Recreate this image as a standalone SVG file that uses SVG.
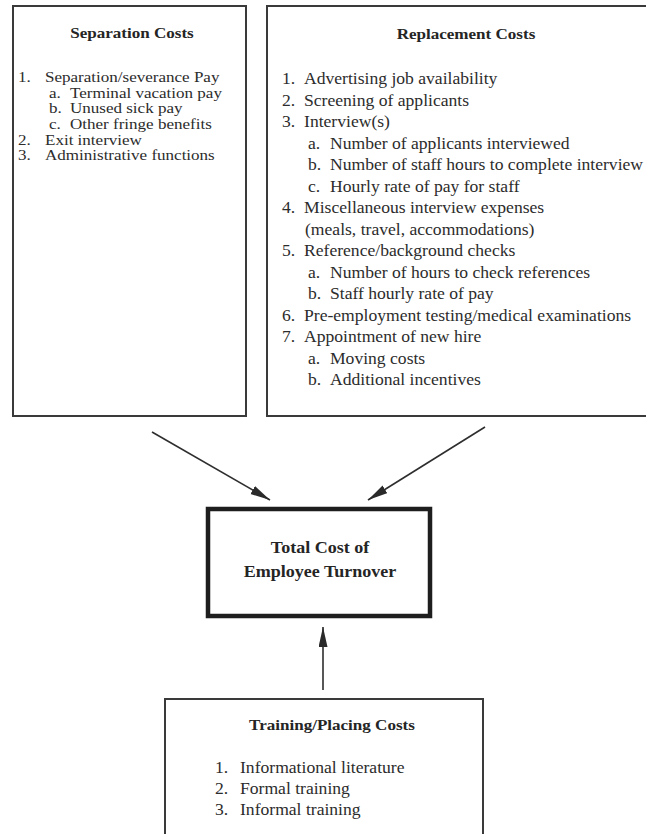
<svg xmlns="http://www.w3.org/2000/svg" width="646" height="834" viewBox="0 0 646 834">
  <style>
    .box { fill: #ffffff; stroke: #3a3a3a; stroke-width: 2; }
    .total { fill: #ffffff; stroke: #1e1e1e; stroke-width: 4.5; }
    .txt text { font-family: "Liberation Serif", "Times New Roman", serif; font-size: 16px; fill: #2c2c2c; }
    .txt.tight text { font-size: 14.2px; }
    .txt .title { font-weight: bold; font-size: 15.5px; text-anchor: middle; fill: #252525; }
    .txt .big { font-weight: bold; font-size: 16.4px; text-anchor: middle; fill: #252525; }
    .conn line { stroke: #2e2e2e; stroke-width: 1.6; fill: none; }
  </style>
  <defs>
    <marker id="head" markerUnits="userSpaceOnUse" markerWidth="21" markerHeight="10" refX="20" refY="4.5" orient="auto">
      <path d="M0,0 L20,4.5 L0,9 Z" fill="#2a2a2a"/>
    </marker>
  </defs>

  <rect width="646" height="834" fill="#ffffff"/>

  <!-- Separation costs -->
  <g id="separation-costs">
    <rect class="box" x="13" y="6" width="233" height="410"/>
    <g class="txt" transform="scale(1.1,1)">
      <text class="title" x="120" y="38">Separation Costs</text>
    </g>
    <g class="txt tight" transform="scale(1.2,1)">
      <text x="15" y="82">1.</text><text x="37.5" y="82">Separation/severance Pay</text>
      <text x="40.8" y="97.7">a.</text><text x="58.3" y="97.7">Terminal vacation pay</text>
      <text x="40.8" y="113.4">b.</text><text x="58.3" y="113.4">Unused sick pay</text>
      <text x="40.8" y="129.1">c.</text><text x="58.3" y="129.1">Other fringe benefits</text>
      <text x="15" y="144.8">2.</text><text x="37.5" y="144.8">Exit interview</text>
      <text x="15" y="160.5">3.</text><text x="37.5" y="160.5">Administrative functions</text>
    </g>
  </g>

  <!-- Replacement costs -->
  <g id="replacement-costs">
    <rect class="box" x="267" y="6" width="400" height="410"/>
    <g class="txt" transform="scale(1.1,1)">
      <text class="title" x="423.6" y="39">Replacement Costs</text>
      <text x="256.4" y="84.5">1.</text><text x="276.4" y="84.5">Advertising job availability</text>
      <text x="256.4" y="106">2.</text><text x="276.4" y="106">Screening of applicants</text>
      <text x="256.4" y="127.5">3.</text><text x="276.4" y="127.5">Interview(s)</text>
      <text x="280" y="149">a.</text><text x="300" y="149">Number of applicants interviewed</text>
      <text x="280" y="170.5">b.</text><text x="300" y="170.5">Number of staff hours to complete interview</text>
      <text x="280" y="192">c.</text><text x="300" y="192">Hourly rate of pay for staff</text>
      <text x="256.4" y="213.5">4.</text><text x="276.4" y="213.5">Miscellaneous interview expenses</text>
      <text x="277.3" y="235">(meals, travel, accommodations)</text>
      <text x="256.4" y="256.5">5.</text><text x="276.4" y="256.5">Reference/background checks</text>
      <text x="280" y="278">a.</text><text x="300" y="278">Number of hours to check references</text>
      <text x="280" y="299.5">b.</text><text x="300" y="299.5">Staff hourly rate of pay</text>
      <text x="256.4" y="321">6.</text><text x="276.4" y="321">Pre-employment testing/medical examinations</text>
      <text x="256.4" y="342.5">7.</text><text x="276.4" y="342.5">Appointment of new hire</text>
      <text x="280" y="364">a.</text><text x="300" y="364">Moving costs</text>
      <text x="280" y="385.5">b.</text><text x="300" y="385.5">Additional incentives</text>
    </g>
  </g>

  <!-- Total cost -->
  <g id="total-cost">
    <rect class="total" x="208" y="509" width="222" height="107"/>
    <g class="txt" transform="scale(1.1,1)">
      <text class="big" x="290.9" y="553">Total Cost of</text>
      <text class="big" x="290.9" y="577">Employee Turnover</text>
    </g>
  </g>

  <!-- Training / placing costs -->
  <g id="training-costs">
    <rect class="box" x="165" y="699" width="318" height="150"/>
    <g class="txt" transform="scale(1.1,1)">
      <text class="title" x="301.8" y="730">Training/Placing Costs</text>
      <text x="195.5" y="773">1.</text><text x="218.2" y="773">Informational literature</text>
      <text x="195.5" y="794">2.</text><text x="218.2" y="794">Formal training</text>
      <text x="195.5" y="815">3.</text><text x="218.2" y="815">Informal training</text>
    </g>
  </g>

  <!-- Connectors -->
  <g id="connectors" class="conn">
    <line x1="152" y1="432" x2="270" y2="500" marker-end="url(#head)"/>
    <line x1="485" y1="427" x2="368" y2="500" marker-end="url(#head)"/>
    <line x1="323" y1="690" x2="323" y2="627" marker-end="url(#head)"/>
  </g>
</svg>
